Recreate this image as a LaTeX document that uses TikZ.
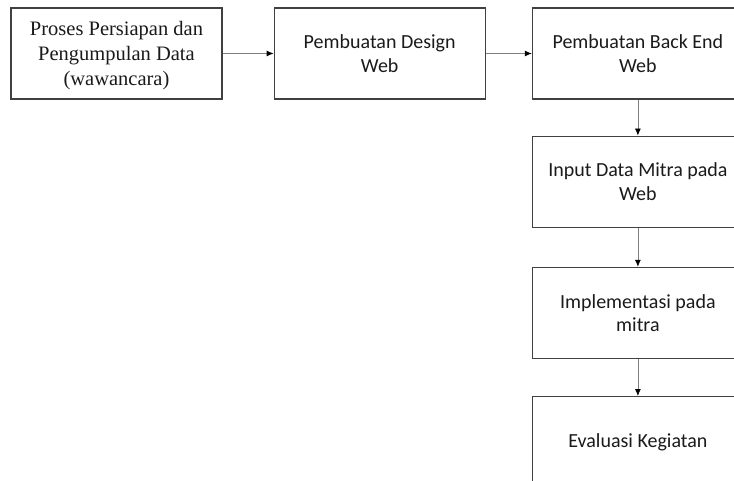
\documentclass[tikz,border=0pt]{standalone}
\usepackage{fontspec}
\setmainfont{Liberation Serif}
\newfontfamily\calibri{Carlito}
\usepackage{tikz}
\usetikzlibrary{arrows.meta}
\usetikzlibrary{positioning}
\definecolor{fc-line}{HTML}{404040}
\definecolor{fc-arrow}{HTML}{7F7F7F}
\definecolor{fc-text}{HTML}{1A1A1A}

\begin{document}
\begin{tikzpicture}[x=1pt, y=-1pt,
    >={Latex[length=7pt, width=6pt, color=black]},
    stage/.style={draw=fc-line, line width=1.2pt, rectangle, minimum width=211pt,
        minimum height=91pt, align=center, inner sep=0pt,
        text=fc-text, font=\calibri\fontsize{20}{23.5}\selectfont},
    flow/.style={->, draw=fc-arrow, line width=0.8pt}]
    % Canvas (the right and bottom boxes run past the edge)
    \clip (0,0) rectangle (734,481);
    \useasboundingbox (0,0) rectangle (734,481);

    % --- Top row ---
    \node[stage, text depth=0pt, font=\rmfamily\fontsize{20.5}{25}\selectfont] (persiapan) at (116.5,53.5)
        {Proses Persiapan dan\\Pengumpulan Data\\(wawancara)};
    \node[stage, right=51pt of persiapan] (design) {Pembuatan Design\\Web};
    \node[stage, right=46pt of design] (backend) {Pembuatan Back End\\Web};

    % --- Right column ---
    \node[stage, below=36pt of backend] (input) {Input Data Mitra pada\\Web};
    \node[stage, below=39pt of input] (implementasi) {Implementasi pada\\mitra};
    \node[stage, below=37pt of implementasi] (evaluasi) {Evaluasi Kegiatan};

    % --- Connectors ---
    \draw[flow] (persiapan) -- (design);
    \draw[flow] (design) -- (backend);
    \draw[flow] (backend) -- (input);
    \draw[flow] (input) -- (implementasi);
    \draw[flow] (implementasi) -- (evaluasi);
\end{tikzpicture}
\end{document}
